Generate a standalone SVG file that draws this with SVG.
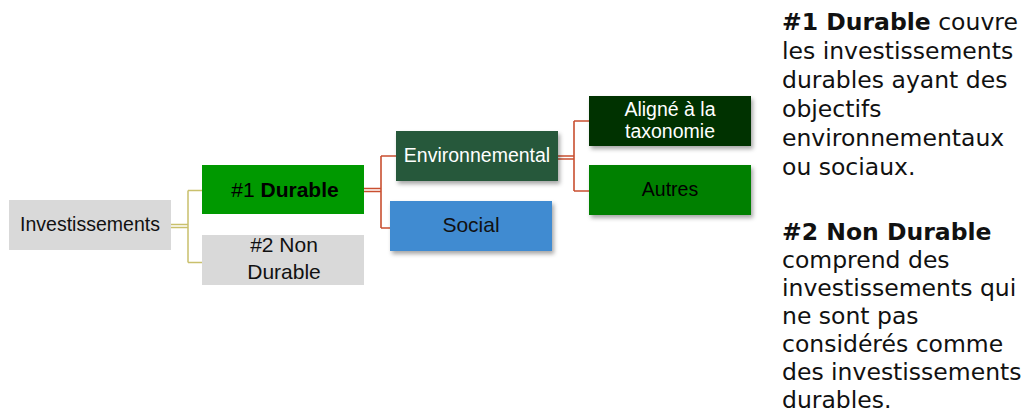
<svg xmlns="http://www.w3.org/2000/svg" width="1027" height="414" viewBox="0 0 1027 414">
<defs>
<filter id="sh" x="-10%" y="-20%" width="130%" height="160%">
<feDropShadow dx="2" dy="3" stdDeviation="2" flood-color="#000" flood-opacity="0.35"/>
</filter>
</defs>
<style>
.lbl{font-family:"Liberation Sans",Arial,sans-serif;font-size:19.5px;text-anchor:middle}
.big{font-size:21px}
.y{stroke:#c9c06c;stroke-width:1.5;fill:none}
.r{stroke:#c94f30;stroke-width:1.6;fill:none}
.note{font-family:"DejaVu Sans",Verdana,sans-serif;font-size:23.5px;fill:#111}
</style>
<rect width="1027" height="414" fill="#fff"/>
<g id="connectors">
<path class="y" d="M171 224.5H188M171 227.5H188M188 190.5V262.5M188 190.5H202M188 262.5H202"/>
<path class="r" d="M364 188.5H381M364 191.5H381M381 156V228M381 156H396M381 228H390"/>
<path class="r" d="M557 156H574M557 159H574M574 121V191M574 121H589M574 191H589"/>
</g>
<g id="investissements">
<rect x="9" y="200" width="162" height="50" fill="#d9d9d9"/>
<text class="lbl" x="90" y="231" fill="#111">Investissements</text>
</g>
<g id="durable">
<rect x="202" y="165" width="162" height="49" fill="#009900"/>
<text class="lbl big" x="285" y="197" fill="#000">#1 <tspan font-weight="bold">Durable</tspan></text>
</g>
<g id="non-durable">
<rect x="202" y="235" width="162" height="50" fill="#d9d9d9"/>
<text class="lbl big" x="284" y="252" fill="#111">#2 Non</text>
<text class="lbl big" x="284" y="279" fill="#111">Durable</text>
</g>
<g id="environnemental">
<rect x="396" y="131" width="162" height="50" fill="#27583a" filter="url(#sh)"/>
<text class="lbl" x="477" y="162" fill="#fff">Environnemental</text>
</g>
<g id="social">
<rect x="390" y="201" width="162" height="50" fill="#3f8bd1" filter="url(#sh)"/>
<text class="lbl big" x="471" y="232" fill="#111">Social</text>
</g>
<g id="aligne">
<rect x="589" y="96" width="162" height="50" fill="#003300" filter="url(#sh)"/>
<text class="lbl" x="670" y="116" fill="#fff">Aligné à la</text>
<text class="lbl" x="670" y="138" fill="#fff">taxonomie</text>
</g>
<g id="autres">
<rect x="589" y="165" width="162" height="50" fill="#008000" filter="url(#sh)"/>
<text class="lbl" x="670" y="196" fill="#000">Autres</text>
</g>
<g id="notes">
<text class="note" x="782" y="30"><tspan font-weight="bold">#1 Durable</tspan> couvre</text>
<text class="note" x="782" y="59">les investissements</text>
<text class="note" x="782" y="88">durables ayant des</text>
<text class="note" x="782" y="117">objectifs</text>
<text class="note" x="782" y="146">environnementaux</text>
<text class="note" x="782" y="175">ou sociaux.</text>
<text class="note" x="782" y="240" font-weight="bold">#2 Non Durable</text>
<text class="note" x="782" y="268">comprend des</text>
<text class="note" x="782" y="296">investissements qui</text>
<text class="note" x="782" y="324">ne sont pas</text>
<text class="note" x="782" y="352">considérés comme</text>
<text class="note" x="782" y="380">des investissements</text>
<text class="note" x="782" y="408">durables.</text>
</g>
</svg>
